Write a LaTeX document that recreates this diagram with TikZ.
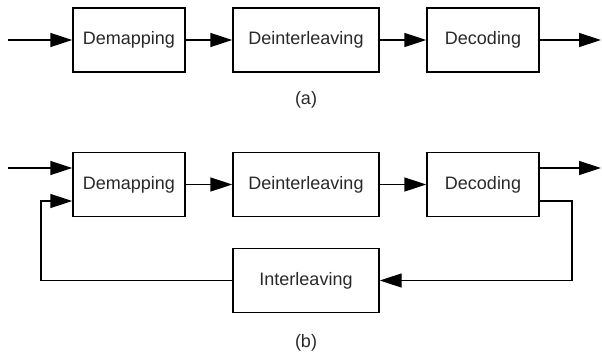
\documentclass[tikz,border=0pt]{standalone}
\usepackage{fontspec}
\setmainfont{Liberation Sans}
\usetikzlibrary{arrows.meta}
\definecolor{labelgray}{RGB}{40,40,40}
\begin{document}
\begin{tikzpicture}[x=1pt,y=-1pt,
  blockbox/.style={draw,line width=1.4pt,minimum width=#1,minimum height=64pt,inner sep=0pt,text=labelgray,font=\fontsize{18}{21}\selectfont},
  blockbox/.default=113pt,
  flow/.style={line width=1.4pt,-{Triangle[length=22pt,width=14pt]}},
  caption/.style={text=labelgray,font=\fontsize{18}{21}\selectfont}]
\useasboundingbox (0,0) rectangle (602,356);
% (a) open chain
\node[blockbox=112pt] (dm1) at (129,40) {Demapping};
\node[blockbox=146pt] (di1) at (306,40) {Deinterleaving};
\node[blockbox=112pt] (dc1) at (483,40) {Decoding};
\coordinate (in1) at (8,40);
\coordinate (out1) at (601,40);
\draw[flow] (in1) -- (dm1);
\draw[flow] (dm1) -- (di1);
\draw[flow] (di1) -- (dc1);
\draw[flow] (dc1) -- (out1);
\node[caption] (capa) at (306,100) {(a)};
% (b) iterative loop
\node[blockbox=112pt] (dm2) at (129,184.5) {Demapping};
\node[blockbox=146pt] (di2) at (306,184.5) {Deinterleaving};
\node[blockbox=112pt] (dc2) at (483,184.5) {Decoding};
\node[blockbox=146pt] (il2) at (306,280.5) {Interleaving};
\coordinate (in2) at (8,168);
\coordinate (out2) at (601,168);
\draw[flow] (in2) -- (in2 -| dm2.west);
\draw[flow] (dm2) -- (di2);
\draw[flow] (di2) -- (dc2);
\draw[flow] (dc2.east |- out2) -- (out2);
\draw[flow] (dc2.east |- 0,201) -- (572,201) -- (572,280.5) -- (il2.east);
\draw[flow] (il2.west) -- (41,280.5) -- (41,201) -- (dm2.west |- 0,201);
\node[caption] (capb) at (306,343) {(b)};
\end{tikzpicture}
\end{document}
